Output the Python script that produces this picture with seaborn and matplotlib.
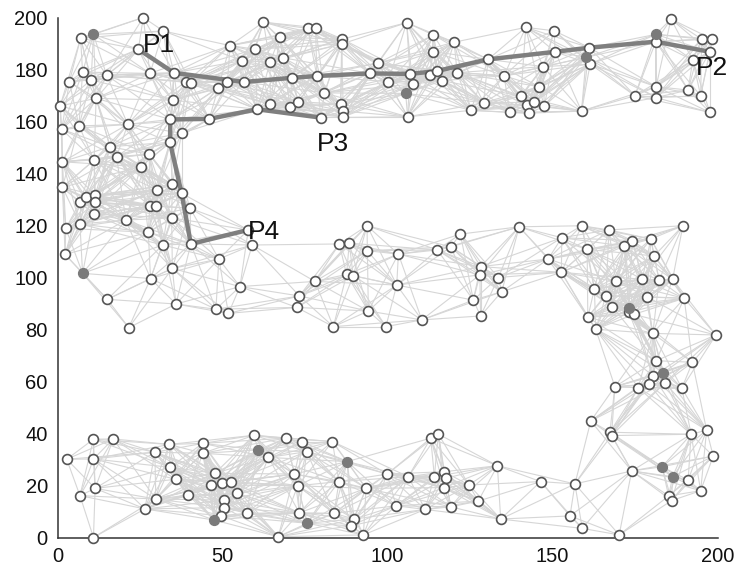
import numpy as np
import matplotlib
matplotlib.use("Agg")
import matplotlib.pyplot as plt
from matplotlib.collections import LineCollection
import seaborn as sns

# Unknown (ordinary) sensor nodes
sensor_x = [
    26, 7, 32.1, 24.5, 52.3, 59.9, 62.4, 55.9, 7.6, 3.6, 10.2, 14.9, 28, 35.3, 38.9, 40.5, 48.7, 51.5, 56.5,
    11.7, 0.8, 34.9, 1.3, 6.5, 21.3, 34.2, 46, 60.5, 37.6, 34.1, 15.9,
    75.8, 78.2, 105.8, 67.3, 86.3, 86.1, 113.9, 120.2, 113.8, 68.4, 64.4, 97.2, 94.7, 71, 78.6, 100.2, 106.8,
    107.6, 112.9, 114.9, 116.6, 121.1, 130.5, 80.9, 64.5, 70.5, 73, 79.8, 85.8, 86.6, 86.6, 106.1, 125.3, 129.1,
    141.9, 150.5, 185.9, 181.3, 195.2, 198.4, 197.7, 150.8, 161.2, 161.4, 147.2, 135.3, 192.5, 145.9, 140.4,
    142.2, 144.4, 147.5, 137.1, 142.9, 158.8, 175, 181.4, 181.4, 191.1, 194.9, 197.7,
    1.5, 11.1, 17.9, 27.8, 25.2, 1.5, 6.8, 8.6, 11.4, 11.4, 11.1, 30.1, 34.8, 37.6, 40.2, 28, 29.8, 20.7, 34.6,
    2.5, 6.8, 27.5, 31.9, 40.4, 57.8, 59, 2.3, 48.9, 34.8, 28.2, 15.1, 35.9, 21.6, 48, 51.8, 55.3,
    93.8, 85.4, 88.4, 93.9, 103.3, 115.1, 119.2, 122.1, 128.2, 128, 78, 87.6, 89.6, 102.8, 73.3, 72.5, 94.2,
    83.6, 99.5, 110.4, 126, 128.2,
    139.9, 158.8, 167.1, 189.5, 152.8, 174.2, 171.8, 179.8, 160.5, 180.8, 148.7, 152.7, 133.6, 169.2, 177.2,
    182.3, 186.4, 134.6, 162.7, 166.2, 178.7, 189.9, 168.1, 173.2, 174.6, 160.7, 163.1, 180.4, 199.5, 181.4,
    192.4, 180.5, 179.2, 184.1, 176, 168.9, 189.2,
    161.6, 167.4, 167.9, 192, 196.7, 198.7, 133.3, 174, 191.1, 194.9, 185.2, 186.1, 146.4, 156.8, 155.3, 159,
    170.2, 134.3, 127.5,
    59.5, 63.9, 69.1, 74, 75.5, 83.3, 71.8, 72.8, 85.3, 93.5, 99.9, 106.3, 114.2, 117.1, 117.6, 117.1, 124.7,
    113.1, 115.4, 73.3, 83.8, 89.9, 88.9, 92.7, 66.9, 102.6, 111.4, 119.2,
    2.8, 10.9, 16.9, 10.9, 11.4, 6.8, 10.9, 29.5, 33.9, 44, 44, 34.1, 35.8, 47.7, 46.4, 49.8, 52.5, 39.6, 54.3,
    29.8, 26.5, 50.5, 50.5, 49.5, 57.3,
]
sensor_y = [
    200, 192, 194.8, 187.8, 189.2, 187.8, 198.2, 183.4, 179, 175.3, 176, 177.8, 178.5, 178.7, 175.3, 174.9, 173,
    175.2, 175.2,
    168.9, 166, 168.2, 157, 158.3, 158.9, 160.8, 161, 164.7, 155.5, 152, 150.3,
    195.8, 196.1, 198, 192.4, 191.7, 189.8, 193.3, 190.5, 186.9, 184.5, 182.8, 182.5, 178.5, 176.8, 177.5,
    175.3, 178.3, 174.4, 177.8, 179.4, 175.7, 178.8, 183.9, 171, 166.6, 165.7, 167.6, 161.5, 166.7, 164, 161.8,
    161.8, 164.3, 167.2,
    196.2, 194.9, 199.4, 190.7, 191.7, 191.7, 186.8, 186.8, 188.4, 182.1, 181.1, 177.6, 183.6, 173.4, 169.8,
    166.3, 167.4, 165.9, 163.5, 163.2, 164, 169.9, 173.4, 169.2, 172.1, 169.9, 163.5,
    144.5, 145.2, 146.5, 147.4, 142.6, 134.7, 128.9, 130.8, 131.7, 128.9, 124.4, 133.7, 135.8, 132.4, 126.6,
    127.6, 127.6, 122.1, 122.9, 118.9, 120.6, 117.4, 112.5, 112.9, 118.3, 112.5, 108.9, 107.1, 103.5, 99.6,
    91.6, 89.8, 80.7, 87.8, 86.2, 96.5,
    119.9, 112.9, 113.2, 110.3, 109, 110.6, 111.8, 116.7, 104.2, 101, 98.5, 101.2, 100.7, 97.1, 92.9, 88.5,
    87.1, 81.1, 81.1, 83.7, 91.3, 85.2,
    119.5, 119.9, 118.3, 119.9, 115.3, 114.2, 112.1, 114.8, 110.8, 108.3, 107.1, 102, 100, 98.5, 99.3, 99,
    99.3, 94.5, 95.6, 93, 92.6, 92, 88.8, 86.6, 85.8, 84.7, 80.1, 78.5, 77.9, 68, 67.4, 62.1, 58.9, 59.5,
    57.6, 58, 57.4,
    44.8, 40.5, 39.2, 39.7, 41.3, 31.3, 27.6, 25.6, 22.1, 18, 16, 14.2, 21.5, 20.6, 8.3, 3.5, 1, 7.1, 14,
    39.3, 30.8, 38.2, 36.9, 33, 36.9, 24.4, 19.9, 21.5, 18.9, 24.4, 23.4, 23.4, 25.3, 22.8, 19.2, 20.2, 38.2,
    39.8, 9.5, 9.3, 7.1, 4.5, 1, 0.3, 12.2, 10.8, 11.8,
    30.1, 37.8, 37.9, 30.2, 18.9, 16.1, 0, 32.8, 35.8, 36.2, 32.4, 27, 22.4, 24.7, 20.2, 21.1, 21.5, 16.3, 17,
    14.8, 11, 14.4, 11.5, 8.4, 9.3,
]

# Anchor nodes (known positions)
anchor_x = [10.9, 105.5, 181.3, 160.2, 7.6, 173.2, 183.6, 183.2, 186.4, 60.9, 87.8, 75.7, 47.5]
anchor_y = [193.5, 170.8, 193.5, 184.7, 101.6, 88.2, 63.4, 27.2, 23.4, 33.7, 29.2, 5.5, 6.7]

# Communication range used for the connectivity graph
radio_range = 27.0

# Routed paths
path_p1_p2_x = [24.5, 35.3, 56.5, 71, 78.6, 94.7, 106.8, 114.9, 130.5, 150.8, 161.2, 181.3, 197.7]
path_p1_p2_y = [187.8, 178.7, 175.2, 176.8, 177.5, 178.5, 178.3, 179.4, 183.9, 186.8, 188.4, 190.7, 186.8]
path_p3_x = [34.2, 46, 60.5, 79.8]
path_p3_y = [160.8, 161, 164.7, 161.5]
path_p4_x = [34.2, 34.1, 37.6, 40.4, 57.8]
path_p4_y = [160.8, 152, 132.4, 112.9, 118.3]

point_labels = ["P1", "P2", "P3", "P4"]
label_x = [26.0, 193.5, 78.5, 57.8]
label_y = [186.6, 178.0, 148.8, 114.8]

sns.set_style("white")
plt.rcParams["font.family"] = ["Liberation Sans", "DejaVu Sans"]

fig = plt.figure(figsize=(7.34, 5.69), dpi=100)
ax = fig.add_axes([57.5 / 734, 1 - 537.5 / 569, 660 / 734, 520 / 569])

# Connectivity graph: link every pair of nodes within radio range
pts = np.column_stack([np.array(sensor_x + anchor_x), np.array(sensor_y + anchor_y)])
dist = np.sqrt(((pts[:, None, :] - pts[None, :, :]) ** 2).sum(-1))
ii, jj = np.where(np.triu(dist < radio_range, 1))
segs = np.stack([pts[ii], pts[jj]], axis=1)
ax.add_collection(LineCollection(segs, colors="#d6d6d6", linewidths=0.8, zorder=1))

for px, py in [(path_p1_p2_x, path_p1_p2_y), (path_p3_x, path_p3_y), (path_p4_x, path_p4_y)]:
    sns.lineplot(x=px, y=py, sort=False, estimator=None, color="#7f7f7f",
                 linewidth=3.2, ax=ax, zorder=2, legend=False)

sns.scatterplot(x=sensor_x, y=sensor_y, s=50, color="white", edgecolor="#555555",
                linewidth=1.2, ax=ax, zorder=3, legend=False)
sns.scatterplot(x=anchor_x, y=anchor_y, s=50, color="#7a7a7a", edgecolor="#7a7a7a",
                linewidth=1.0, ax=ax, zorder=4, legend=False)
for coll in ax.collections:
    coll.set_clip_on(False)
for ln in ax.lines:
    ln.set_clip_on(False)

for txt, tx, ty in zip(point_labels, label_x, label_y):
    ax.text(tx, ty, txt, fontsize=19, color="#111111", ha="left", va="baseline",
            zorder=5, clip_on=False)

ax.set_xlim(0, 200)
ax.set_ylim(0, 200)
ax.set_xticks([0, 50, 100, 150, 200])
ax.set_yticks(range(0, 201, 20))
ax.tick_params(direction="in", length=5, width=1, colors="#333333",
               labelcolor="#111111", labelsize=14.5, pad=7)
for side in ["top", "right"]:
    ax.spines[side].set_visible(False)
for side in ["left", "bottom"]:
    ax.spines[side].set_color("#333333")
    ax.spines[side].set_linewidth(1.1)
ax.set_xlabel("")
ax.set_ylabel("")

fig.savefig("out.png", dpi=100)
